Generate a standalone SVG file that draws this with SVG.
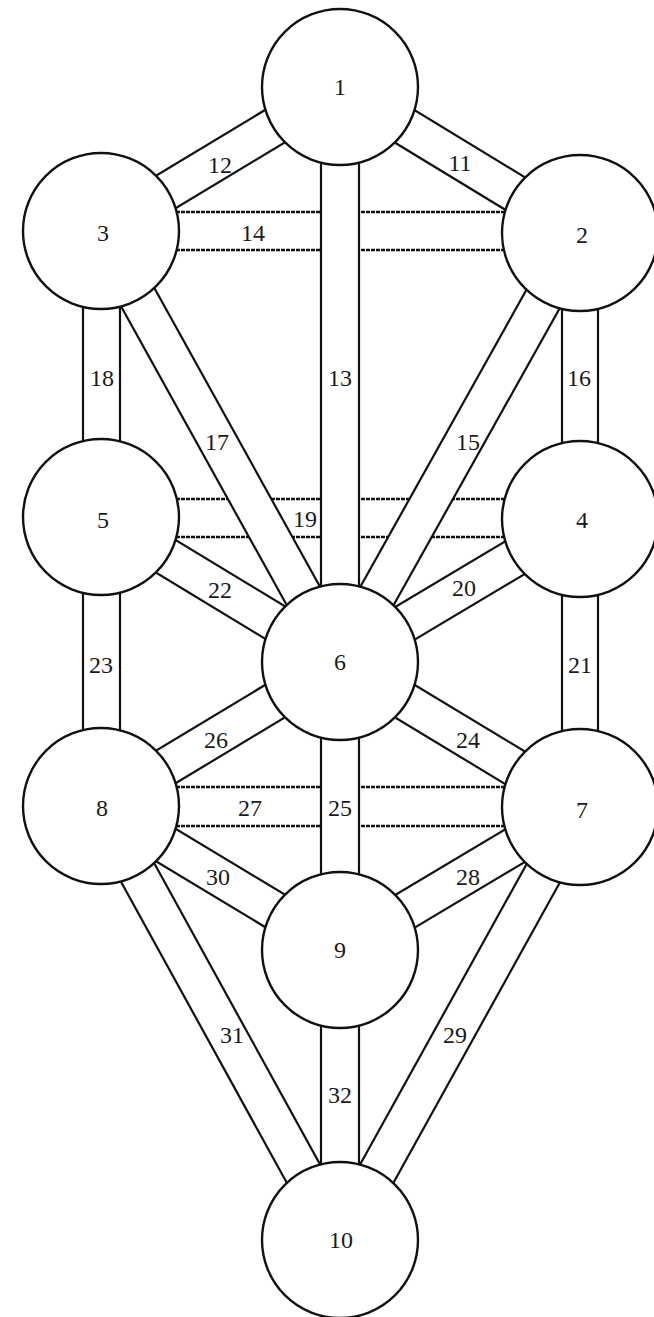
<svg xmlns="http://www.w3.org/2000/svg" width="654" height="1317" viewBox="0 0 654 1317">
<style>
.bg{fill:#ffffff}
.ch{fill:#ffffff;stroke:none}
.ln{stroke:#111111;stroke-width:2.2;fill:none}
.dl{stroke:#111111;stroke-width:2.4;fill:none;stroke-dasharray:4 1}
.nd{fill:#ffffff;stroke:#111111;stroke-width:2.4}
.t{font-family:"Liberation Serif","Times New Roman",serif;font-size:24px;fill:#1a1a1a;text-anchor:middle;dominant-baseline:central}
</style>
<rect class="bg" x="0" y="0" width="654" height="1317"/>
<g id="connectors">
  <g id="p14"><rect class="ch" x="101" y="212" width="479" height="38"/><line class="dl" x1="101" y1="212" x2="580" y2="212"/><line class="dl" x1="101" y1="250" x2="580" y2="250"/></g>
  <g id="p19"><rect class="ch" x="101" y="499" width="479" height="38"/><line class="dl" x1="101" y1="499" x2="580" y2="499"/><line class="dl" x1="101" y1="537" x2="580" y2="537"/></g>
  <g id="p27"><rect class="ch" x="101" y="787" width="479" height="39"/><line class="dl" x1="101" y1="787" x2="580" y2="787"/><line class="dl" x1="101" y1="826" x2="580" y2="826"/></g>
  <g id="p11" transform="translate(340 87) rotate(31.31)"><rect class="ch" x="0" y="-19" width="280.9" height="38"/><line class="ln" x1="0" y1="-19" x2="280.9" y2="-19"/><line class="ln" x1="0" y1="19" x2="280.9" y2="19"/></g>
  <g id="p12" transform="translate(340 87) rotate(148.93)"><rect class="ch" x="0" y="-19" width="279" height="38"/><line class="ln" x1="0" y1="-19" x2="279" y2="-19"/><line class="ln" x1="0" y1="19" x2="279" y2="19"/></g>
  <g id="p15" transform="translate(580 233) rotate(119.22)"><rect class="ch" x="0" y="-19" width="491.6" height="38"/><line class="ln" x1="0" y1="-19" x2="491.6" y2="-19"/><line class="ln" x1="0" y1="19" x2="491.6" y2="19"/></g>
  <g id="p17" transform="translate(101 231) rotate(60.99)"><rect class="ch" x="0" y="-19" width="492.8" height="38"/><line class="ln" x1="0" y1="-19" x2="492.8" y2="-19"/><line class="ln" x1="0" y1="19" x2="492.8" y2="19"/></g>
  <g id="p20" transform="translate(580 519) rotate(149.21)"><rect class="ch" x="0" y="-19" width="279.4" height="38"/><line class="ln" x1="0" y1="-19" x2="279.4" y2="-19"/><line class="ln" x1="0" y1="19" x2="279.4" y2="19"/></g>
  <g id="p22" transform="translate(101 517) rotate(31.24)"><rect class="ch" x="0" y="-19" width="279.5" height="38"/><line class="ln" x1="0" y1="-19" x2="279.5" y2="-19"/><line class="ln" x1="0" y1="19" x2="279.5" y2="19"/></g>
  <g id="p24" transform="translate(340 662) rotate(31.14)"><rect class="ch" x="0" y="-19" width="280.4" height="38"/><line class="ln" x1="0" y1="-19" x2="280.4" y2="-19"/><line class="ln" x1="0" y1="19" x2="280.4" y2="19"/></g>
  <g id="p26" transform="translate(101 806) rotate(-31.07)"><rect class="ch" x="0" y="-19" width="279" height="38"/><line class="ln" x1="0" y1="-19" x2="279" y2="-19"/><line class="ln" x1="0" y1="19" x2="279" y2="19"/></g>
  <g id="p28" transform="translate(580 807) rotate(149.21)"><rect class="ch" x="0" y="-19" width="279.4" height="38"/><line class="ln" x1="0" y1="-19" x2="279.4" y2="-19"/><line class="ln" x1="0" y1="19" x2="279.4" y2="19"/></g>
  <g id="p29" transform="translate(580 807) rotate(119)"><rect class="ch" x="0" y="-19" width="495.1" height="38"/><line class="ln" x1="0" y1="-19" x2="495.1" y2="-19"/><line class="ln" x1="0" y1="19" x2="495.1" y2="19"/></g>
  <g id="p30" transform="translate(101 806) rotate(31.07)"><rect class="ch" x="0" y="-19" width="279" height="38"/><line class="ln" x1="0" y1="-19" x2="279" y2="-19"/><line class="ln" x1="0" y1="19" x2="279" y2="19"/></g>
  <g id="p31" transform="translate(101 806) rotate(61.16)"><rect class="ch" x="0" y="-19" width="495.5" height="38"/><line class="ln" x1="0" y1="-19" x2="495.5" y2="-19"/><line class="ln" x1="0" y1="19" x2="495.5" y2="19"/></g>
  <g id="p13"><rect class="ch" x="321" y="87" width="38" height="575"/><line class="ln" x1="321" y1="87" x2="321" y2="662"/><line class="ln" x1="359" y1="87" x2="359" y2="662"/></g>
  <g id="p16"><rect class="ch" x="562" y="233" width="36" height="286"/><line class="ln" x1="562" y1="233" x2="562" y2="519"/><line class="ln" x1="598" y1="233" x2="598" y2="519"/></g>
  <g id="p18"><rect class="ch" x="83" y="231" width="37" height="286"/><line class="ln" x1="83" y1="231" x2="83" y2="517"/><line class="ln" x1="120" y1="231" x2="120" y2="517"/></g>
  <g id="p21"><rect class="ch" x="562" y="519" width="36" height="288"/><line class="ln" x1="562" y1="519" x2="562" y2="807"/><line class="ln" x1="598" y1="519" x2="598" y2="807"/></g>
  <g id="p23"><rect class="ch" x="83" y="517" width="37" height="289"/><line class="ln" x1="83" y1="517" x2="83" y2="806"/><line class="ln" x1="120" y1="517" x2="120" y2="806"/></g>
  <g id="p25"><rect class="ch" x="321" y="662" width="38" height="288"/><line class="ln" x1="321" y1="662" x2="321" y2="950"/><line class="ln" x1="359" y1="662" x2="359" y2="950"/></g>
  <g id="p32"><rect class="ch" x="321" y="950" width="38" height="290"/><line class="ln" x1="321" y1="950" x2="321" y2="1240"/><line class="ln" x1="359" y1="950" x2="359" y2="1240"/></g>
</g>
<g id="path-labels">
  <text class="t" x="460" y="163">11</text>
  <text class="t" x="220" y="165">12</text>
  <text class="t" x="340" y="378">13</text>
  <text class="t" x="253" y="233">14</text>
  <text class="t" x="468" y="442">15</text>
  <text class="t" x="579" y="378">16</text>
  <text class="t" x="217" y="442">17</text>
  <text class="t" x="102" y="378">18</text>
  <text class="t" x="305" y="519">19</text>
  <text class="t" x="464" y="588">20</text>
  <text class="t" x="580" y="665">21</text>
  <text class="t" x="220" y="590">22</text>
  <text class="t" x="101" y="665">23</text>
  <text class="t" x="468" y="740">24</text>
  <text class="t" x="340" y="808">25</text>
  <text class="t" x="216" y="740">26</text>
  <text class="t" x="250" y="808">27</text>
  <text class="t" x="468" y="877">28</text>
  <text class="t" x="455" y="1035">29</text>
  <text class="t" x="232" y="1035">31</text>
  <text class="t" x="218" y="877">30</text>
  <text class="t" x="340" y="1095">32</text>
</g>
<g id="n1"><circle class="nd" cx="340" cy="87" r="78"/><text class="t" x="340" y="87">1</text></g>
<g id="n2"><circle class="nd" cx="580" cy="233" r="78"/><text class="t" x="582" y="235">2</text></g>
<g id="n3"><circle class="nd" cx="101" cy="231" r="78"/><text class="t" x="103" y="233">3</text></g>
<g id="n4"><circle class="nd" cx="580" cy="519" r="78"/><text class="t" x="582" y="520">4</text></g>
<g id="n5"><circle class="nd" cx="101" cy="517" r="78"/><text class="t" x="103" y="520">5</text></g>
<g id="n6"><circle class="nd" cx="340" cy="662" r="78"/><text class="t" x="340" y="662">6</text></g>
<g id="n7"><circle class="nd" cx="580" cy="807" r="78"/><text class="t" x="582" y="810">7</text></g>
<g id="n8"><circle class="nd" cx="101" cy="806" r="78"/><text class="t" x="102" y="808">8</text></g>
<g id="n9"><circle class="nd" cx="340" cy="950" r="78"/><text class="t" x="340" y="950">9</text></g>
<g id="n10"><circle class="nd" cx="340" cy="1240" r="78"/><text class="t" x="341" y="1240">10</text></g>
</svg>
